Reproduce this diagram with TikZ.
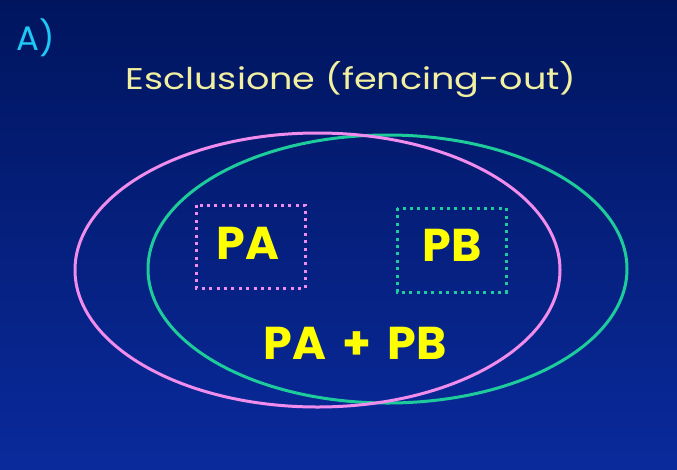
\documentclass[tikz,border=0pt]{standalone}
\usepackage{fontspec}
\setmainfont{Poppins}
\definecolor{bgtop}{HTML}{00155E}
\definecolor{bgbot}{HTML}{0A2A9C}
\definecolor{pinkline}{HTML}{F08CEB}
\definecolor{greenline}{HTML}{1DCC9A}
\definecolor{labelyellow}{HTML}{FFFF00}
\definecolor{titleyellow}{HTML}{F2F0A0}
\definecolor{cyantext}{HTML}{1EC8F5}
\tikzset{
  ell/.style={draw, line width=3pt},
  dotbox/.style={draw, line width=3pt, dash pattern=on 3pt off 4.4pt},
  biglabel/.style={text=labelyellow, font=\fontsize{46}{50}\selectfont\bfseries},
}
\begin{document}
\begin{tikzpicture}[x=1pt,y=-1pt]
\shade[top color=bgtop, bottom color=bgbot] (0,0) rectangle (677,469);
\useasboundingbox (0,0) rectangle (677,469);
\node[text=cyantext, font=\fontsize{34}{38}\selectfont] (lab) at (36,38) {A)};
\node[text=titleyellow, font=\fontsize{30}{34}\selectfont] (title) at (351,80) {\scalebox{1.22}[1]{Esclusione (fencing-out)}};
\draw[ell, greenline] (387.5,269) ellipse [x radius=239.5, y radius=134];
\draw[ell, pinkline] (317.5,270) ellipse [x radius=242.5, y radius=137];
\draw[dotbox, pinkline] (196,205) rectangle (305,288);
\draw[dotbox, greenline] (397,208) rectangle (506,292);
\node[biglabel] (pa) at (248,243) {PA};
\node[biglabel] (pb) at (452,245) {PB};
\node[biglabel] (papb) at (355,343) {PA\hspace{0.35em}+\hspace{0.35em}PB};
\end{tikzpicture}
\end{document}
